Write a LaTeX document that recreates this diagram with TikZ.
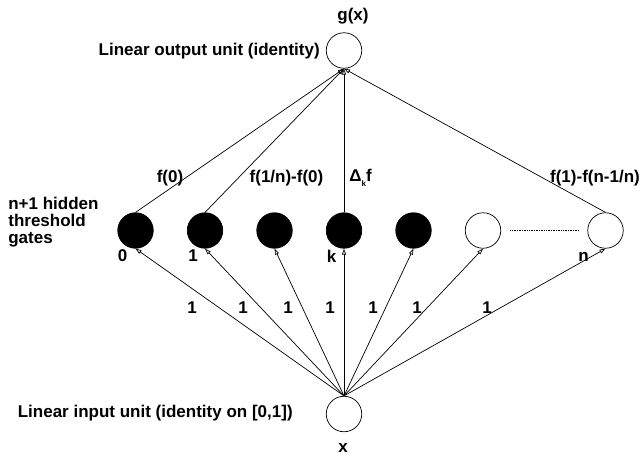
\documentclass[tikz,border=0pt]{standalone}
\usepackage{fontspec}
\setmainfont{Liberation Sans}
\usetikzlibrary{arrows.meta}
\tikzset{every picture/.style={line width=0.7pt}}
\tikzset{
  unit/.style={circle, draw, minimum size=35.5pt, inner sep=0pt},
  gate/.style={unit, fill=black},
  idlegate/.style={unit, fill=white},
  lbl/.style={font=\fontsize{17}{17}\selectfont\bfseries, inner sep=0pt},
  conn/.style={-{Triangle[open, length=6pt, width=4pt]}}
}

\begin{document}
\begin{tikzpicture}[x=1pt, y=-1pt]
\useasboundingbox (0,0) rectangle (644,455);
% units
\node[unit] (out) at (344,50.5) {};
\node[unit] (in) at (344,414) {};
\node[gate] (h0) at (135.5,230.5) {};
\node[gate] (h1) at (205,230.5) {};
\node[gate] (h2) at (274.5,230.5) {};
\node[gate] (hk) at (344,230.5) {};
\node[gate] (h4) at (413.5,230.5) {};
\node[idlegate] (h5) at (483,230.5) {};
\node[idlegate] (hn) at (605.5,230.5) {};
\draw[densely dotted, shorten <=9pt, shorten >=8pt] (h5.east) -- (hn.west);
% texts
\node[lbl] (gx) at (353,16) {g(x)};
\node[lbl] (xin) at (343,448) {x};
\node[lbl, anchor=east] (outtxt) at (320,51) {Linear output unit (identity)};
\node[lbl, anchor=east] (intxt) at (293,413) {Linear input unit (identity on [0,1])};
\node[lbl, anchor=west, align=left] (hidtxt) at (8,222) {n+1 hidden\\threshold\\gates};
\node[lbl] (n0) at (122.5,256) {0};
\node[lbl] (n1) at (193,256) {1};
\node[lbl] (nk) at (331.5,256) {k};
\node[lbl] (nn) at (583.5,257) {n};
% input weights
\draw[conn] (in.north) -- (h0.south);
\draw[conn] (in.north) -- (h1.south);
\draw[conn] (in.north) -- (h2.south);
\draw[conn] (in.north) -- (hk.south);
\draw[conn] (in.north) -- (h4.south);
\draw[conn] (in.north) -- (h5.south);
\draw[conn] (in.north) -- (hn.south);
\node[lbl] (w0) at (192,308) {1};
\node[lbl] (w1) at (243,308) {1};
\node[lbl] (w2) at (288,308) {1};
\node[lbl] (wk) at (330,308) {1};
\node[lbl] (w4) at (373,308) {1};
\node[lbl] (w5) at (417,308) {1};
\node[lbl] (wn) at (487,308) {1};
% output weights
\draw[conn] (h0.north) -- (out.south);
\draw[conn] (h1.north) -- (out.south);
\draw[conn] (hk.north) -- (out.south);
\draw[conn] (hn.north) -- (out.south);
\node[lbl] (v0) at (170,178) {f(0)};
\node[lbl] (v1) at (286.5,178) {f(1/n)-f(0)};
\node[lbl, anchor=west] (vk) at (349,178) {Δ\raisebox{-0.5ex}{\fontsize{8}{8}\selectfont k}f};
\node[lbl] (vn) at (595,178) {f(1)-f(n-1/n)};
\end{tikzpicture}
\end{document}
